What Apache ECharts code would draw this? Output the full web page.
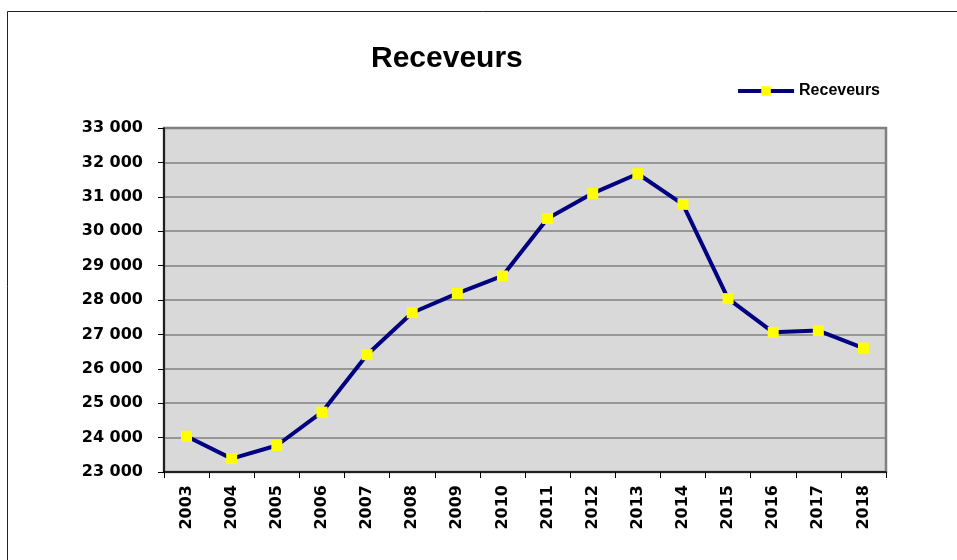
<!DOCTYPE html>
<html>
<head>
<meta charset="utf-8">
<script src="https://cdn.jsdelivr.net/npm/echarts@6/dist/echarts.min.js"></script>
<style>
  html, body { margin: 0; padding: 0; background: #fff; }
  #chart { width: 957px; height: 560px; }
</style>
</head>
<body>
<div id="chart"></div>
<script>
  // années et valeurs
  var years = ["2003", "2004", "2005", "2006", "2007", "2008", "2009", "2010",
    "2011", "2012", "2013", "2014", "2015", "2016", "2017", "2018"];
  var receveurs = [24040, 23390, 23770, 24740, 26410, 27630, 28190, 28700,
    30370, 31100, 31670, 30780, 28040, 27060, 27110, 26600];

  var font = "Arial, 'Liberation Sans', sans-serif";
  var axisFont = "'DejaVu Sans', sans-serif";

  function fmt(v) {
    // 33000 -> "33 000"
    return String(v).replace(/\B(?=(\d{3})+(?!\d))/g, " ");
  }

  var myChart = echarts.init(document.getElementById("chart"));
  myChart.setOption({
    animation: false,
    backgroundColor: "#fff",
    textStyle: { fontFamily: font },
    graphic: [
      {
        type: "rect",
        shape: { x: 7.5, y: 11.5, width: 1000, height: 1000 },
        style: { fill: "none", stroke: "#222", lineWidth: 1 },
        z: -1
      }
    ],
    title: {
      text: "Receveurs",
      left: 366,
      top: 39,
      textStyle: { fontSize: 30, fontWeight: "bold", color: "#000", fontFamily: font }
    },
    legend: {
      data: ["Receveurs"],
      right: 72,
      top: 78,
      itemWidth: 56,
      itemHeight: 12,
      itemGap: 8,
      lineStyle: { width: 4, color: "#000080" },
      textStyle: { fontSize: 16, fontWeight: "bold", color: "#000", fontFamily: font }
    },
    grid: {
      left: 164,
      right: 71,
      top: 128,
      bottom: 88,
      show: true,
      backgroundColor: "#d9d9d9",
      borderColor: "#808080",
      borderWidth: 2.5
    },
    xAxis: {
      type: "category",
      data: years,
      boundaryGap: true,
      axisLine: { lineStyle: { color: "#000", width: 1.5 } },
      axisTick: { show: true, length: 6, lineStyle: { color: "#000" } },
      axisLabel: {
        rotate: 90,
        margin: 13,
        fontSize: 16,
        fontWeight: "bold",
        color: "#000",
        fontFamily: axisFont
      },
      splitLine: { show: false }
    },
    yAxis: {
      type: "value",
      min: 23000,
      max: 33000,
      interval: 1000,
      axisLine: { show: true, lineStyle: { color: "#000", width: 1.5 } },
      axisTick: { show: true, length: 6, lineStyle: { color: "#000" } },
      axisLabel: {
        margin: 21,
        fontSize: 16,
        fontWeight: "bold",
        color: "#000",
        fontFamily: axisFont,
        formatter: fmt
      },
      splitLine: { show: true, lineStyle: { color: "#808080", width: 1.5 } }
    },
    series: [
      {
        name: "Receveurs",
        type: "line",
        data: receveurs,
        symbol: "rect",
        symbolSize: 11,
        itemStyle: { color: "#ffff00", borderWidth: 0 },
        lineStyle: { color: "#000080", width: 4 },
        z: 3
      }
    ]
  });
</script>
</body>
</html>
